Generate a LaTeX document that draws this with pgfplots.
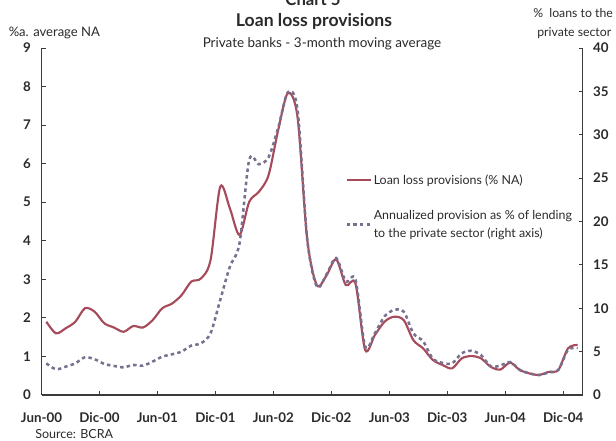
\documentclass[border=0pt]{standalone}
\usepackage{fontspec}
\setmainfont{Lato}
\usepackage{pgfplots}
\usepackage{pgfplotstable}
\pgfplotsset{compat=1.18}
\definecolor{redl}{HTML}{A64B5B}
\definecolor{bluel}{HTML}{77708E}
\definecolor{axc}{HTML}{3A3A3A}
\definecolor{txt}{HTML}{2A2A2A}

\pgfplotstableread{
m v
0.5 1.90
1.5 1.60
2.5 1.73
3.5 1.90
4.5 2.25
5.5 2.16
6.5 1.86
7.5 1.75
8.5 1.64
9.5 1.79
10.5 1.75
11.5 1.94
12.5 2.25
13.5 2.37
14.5 2.59
15.5 2.94
16.5 3.02
17.5 3.50
18.5 5.40
19.5 4.84
20.5 4.15
21.5 5.01
22.5 5.27
23.5 5.70
24.5 6.87
25.5 7.83
26.5 7.21
27.5 4.05
28.5 2.85
29.5 3.10
30.5 3.52
31.5 2.85
32.5 2.89
33.5 1.17
34.5 1.55
35.5 1.90
36.5 2.03
37.5 1.94
38.5 1.42
39.5 1.21
40.5 0.91
41.5 0.78
42.5 0.69
43.5 0.95
44.5 1.01
45.5 0.95
46.5 0.73
47.5 0.66
48.5 0.84
49.5 0.65
50.5 0.56
51.5 0.52
52.5 0.60
53.5 0.65
54.5 1.21
55.5 1.30
}\redtable

\pgfplotstableread{
m v
0.5 3.65
1.5 2.96
2.5 3.27
3.5 3.65
4.5 4.35
5.5 4.12
6.5 3.58
7.5 3.35
8.5 3.19
9.5 3.46
10.5 3.38
11.5 3.85
12.5 4.42
13.5 4.69
14.5 5.00
15.5 5.69
16.5 5.96
17.5 7.12
18.5 10.96
19.5 14.8
20.5 17.5
21.5 27.1
22.5 26.6
23.5 27.4
24.5 30.8
25.5 34.9
26.5 32.9
27.5 18.0
28.5 12.5
29.5 13.9
30.5 15.8
31.5 13.1
32.5 13.3
33.5 5.6
34.5 7.1
35.5 9.05
36.5 9.8
37.5 9.6
38.5 7.1
39.5 6.2
40.5 4.2
41.5 3.7
42.5 3.65
43.5 4.8
44.5 5.1
45.5 4.6
46.5 3.3
47.5 3.4
48.5 3.8
49.5 2.9
50.5 2.5
51.5 2.3
52.5 2.6
53.5 2.9
54.5 5.2
55.5 5.4
}\bluetable

\begin{document}
\begin{tikzpicture}
\useasboundingbox (0,0) rectangle (462pt,330.75pt);
\clip (0,0) rectangle (462pt,330.75pt);
\pgfplotsset{
  common/.style={
    at={({41.5*0.75pt},{46*0.75pt})}, anchor=south west,
    scale only axis, width={541*0.75pt}, height={347*0.75pt},
    xmin=0, xmax=56,
    tick align=inside, major tick length=3pt,
    axis line style={draw=axc, line width=0.8pt, -},
    tick style={draw=axc, line width=0.6pt},
    /pgf/number format/assume math mode=true,
    ticklabel style={font=\fontsize{10}{11}\selectfont\bfseries, text=txt},
  }
}
\begin{axis}[common,
  ymin=0, ymax=9, ytick={0,1,...,9},
  axis y line*=left, axis x line*=bottom,
  xtick={0,6,...,54},
  xticklabels={Jun-00,Dic-00,Jun-01,Dic-01,Jun-02,Dic-02,Jun-03,Dic-03,Jun-04,Dic-04},
  xticklabel style={yshift=-10pt},
  yticklabel style={xshift=-4.5pt},
]
\addplot[redl, line width=1.6pt, smooth, tension=0.5] table[x=m,y=v] {\redtable};
\end{axis}
\begin{axis}[common,
  ymin=0, ymax=40, ytick={0,5,...,40},
  axis y line*=right, hide x axis,
  yticklabel style={xshift=4.5pt},
  legend style={at={(0.561,0.642)}, anchor=north west, draw=none, fill=none,
    inner sep=0pt, row sep=15pt,
    font=\fontsize{9.3}{13.5}\selectfont, text=txt,
    nodes={align=left, inner sep=1.5pt}},
  legend cell align=left,
  legend image code/.code={\draw[#1] (0pt,0pt) -- (18pt,0pt);},
]
\addlegendimage{redl, line width=1.6pt}
\addlegendentry{Loan loss provisions (\% NA)}
\addplot[bluel, line width=1.9pt, dash pattern=on 2.6pt off 2.4pt, smooth, tension=0.5] table[x=m,y=v] {\bluetable};
\addlegendentry{Annualized provision as \% of lending\\to the private sector (right axis)}
\end{axis}
\begin{scope}[x=0.75pt, y=0.75pt, text=txt]
\node[anchor=base, font=\fontsize{12.5}{13}\selectfont\bfseries] at (313, 435) {Chart 5};
\node[anchor=base, font=\fontsize{13.2}{14}\selectfont\bfseries] at (314, 414) {Loan loss provisions};
\node[anchor=base, font=\fontsize{10.1}{12}\selectfont] at (322, 393) {Private banks - 3-month moving average};
\node[anchor=base west, inner sep=0pt, font=\fontsize{9.8}{11}\selectfont] at (8.5, 404) {\%a. average NA};
\node[anchor=base west, inner sep=0pt, font=\fontsize{9.2}{11}\selectfont] at (533, 423) {\%\ \ loans to the};
\node[anchor=base west, inner sep=0pt, font=\fontsize{9.2}{11}\selectfont] at (537, 404) {private sector};
\node[anchor=base west, inner sep=0pt, font=\fontsize{9.4}{10}\selectfont] at (35, 2.5) {Source: BCRA};
\end{scope}
\end{tikzpicture}
\end{document}
